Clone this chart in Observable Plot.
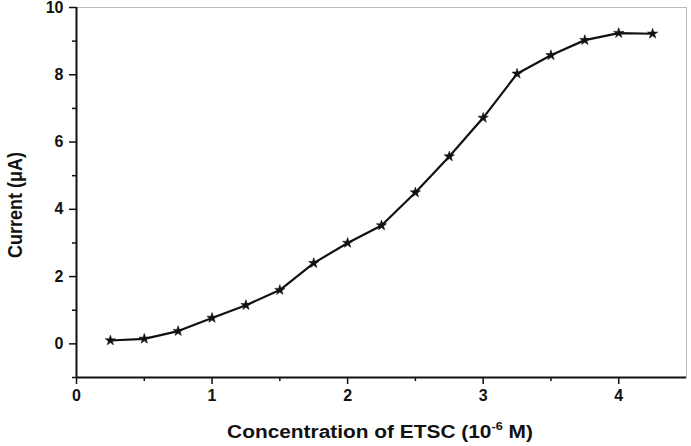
<!DOCTYPE html>
<html>
<head>
<meta charset="utf-8">
<script src="https://cdn.jsdelivr.net/npm/d3@7"></script>
<script src="https://cdn.jsdelivr.net/npm/@observablehq/plot@0.6"></script>
<style>
  body { margin: 0; background: #fff; }
  #chart svg { font-family: "Liberation Sans", Arial, sans-serif; }
</style>
</head>
<body>
<div id="chart"></div>
<script>
const concentration = [0.25, 0.5, 0.75, 1.0, 1.25, 1.5, 1.75, 2.0, 2.25, 2.5, 2.75, 3.0, 3.25, 3.5, 3.75, 4.0, 4.25];
const current = [0.1, 0.15, 0.38, 0.77, 1.15, 1.6, 2.4, 3.0, 3.52, 4.5, 5.57, 6.72, 8.03, 8.58, 9.03, 9.24, 9.22];
const xMajor = [0, 1, 2, 3, 4];
const xMinor = [0.5, 1.5, 2.5, 3.5];
const yMajor = [0, 2, 4, 6, 8, 10];
const yMinor = [-1, 1, 3, 5, 7, 9];
const xTitle = ["Concentration of ETSC (10", "-6", " M)"];
const yTitle = "Current (\u03bcA)";

const data = concentration.map((c, i) => ({c, v: current[i]}));

const W = 691, H = 446;
const plot = Plot.plot({
  width: W,
  height: H,
  marginLeft: 76,
  marginRight: 5,
  marginTop: 7,
  marginBottom: 69,
  style: {fontSize: "16px", fontWeight: "bold", color: "#111", background: "#fff"},
  x: {domain: [0, 4.5]},
  y: {domain: [-1, 10]},
  marks: [
    Plot.frame({stroke: "#bbb", strokeWidth: 1}),
    Plot.axisX({ticks: xMajor, tickFormat: d => String(d), tickSize: 7, tickPadding: 5, label: null, strokeWidth: 1.5, fontSize: 16}),
    Plot.axisX({ticks: xMinor, tickSize: 4, text: null, label: null, strokeWidth: 1.5}),
    Plot.axisY({ticks: yMajor, tickFormat: d => String(d), tickSize: 7, tickPadding: 6, label: null, strokeWidth: 1.5, fontSize: 16}),
    Plot.axisY({ticks: yMinor, tickSize: 4, text: null, label: null, strokeWidth: 1.5}),
    Plot.ruleX([0], {stroke: "#111", strokeWidth: 2}),
    Plot.ruleY([-1], {stroke: "#111", strokeWidth: 2}),
    Plot.line(data, {x: "c", y: "v", stroke: "#111", strokeWidth: 2.2}),
    Plot.dot(data, {x: "c", y: "v", symbol: "star", fill: "#111", stroke: "#111", strokeWidth: 0.6, r: 3.2})
  ]
});

const svg = d3.select(plot);
svg.selectAll("g[aria-label$='tick label']").attr("font-size", 16).attr("font-weight", "bold");
svg.selectAll("g[aria-label$='tick label'] text").style("font-size", "16px");
// x axis title with superscript
const xt = svg.append("text")
  .attr("transform", "translate(380,438) scale(1.16,1)")
  .attr("text-anchor", "middle")
  .attr("font-size", 18).attr("font-weight", "bold").attr("fill", "#111");
xt.append("tspan").text(xTitle[0]);
xt.append("tspan").attr("dy", -8).attr("font-size", 11).text(xTitle[1]);
xt.append("tspan").attr("dy", 8).text(xTitle[2]);
// y axis title
svg.append("text")
  .attr("transform", "translate(22,205) scale(1.13,1) rotate(-90)")
  .attr("text-anchor", "middle")
  .attr("font-size", 18).attr("font-weight", "bold").attr("fill", "#111")
  .text(yTitle);

document.getElementById("chart").appendChild(plot);
</script>
</body>
</html>
